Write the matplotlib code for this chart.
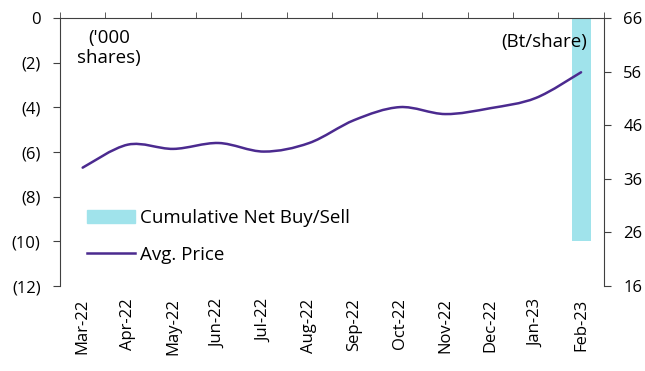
import numpy as np
from matplotlib import pyplot as plt
from matplotlib.path import Path
from matplotlib.patches import PathPatch
from matplotlib.lines import Line2D
from matplotlib.ticker import FixedLocator, FuncFormatter

plt.rcParams['font.family'] = ['Open Sans', 'DejaVu Sans']
plt.rcParams['font.size'] = 12

months = ['Mar-22', 'Apr-22', 'May-22', 'Jun-22', 'Jul-22', 'Aug-22',
          'Sep-22', 'Oct-22', 'Nov-22', 'Dec-22', 'Jan-23', 'Feb-23']
net_buy_sell = [0, 0, 0, 0, 0, 0, 0, 0, 0, 0, 0, -10.0]  # '000 shares
avg_price = [38.1, 42.4, 41.6, 42.7, 41.1, 42.7, 47.0, 49.4, 48.1, 49.2, 51.1, 55.9]  # Bt/share

bar_color = '#a0e3eb'
line_color = '#4b2a8f'
axis_color = '#404040'


def smooth_path(xs, ys, t=1/6):
    # cubic bezier through every point (Excel style smoothed line)
    verts = [(xs[0], ys[0])]
    codes = [Path.MOVETO]
    n = len(xs)
    for i in range(n - 1):
        x0, y0 = (xs[i - 1], ys[i - 1]) if i > 0 else (xs[i], ys[i])
        x3, y3 = (xs[i + 2], ys[i + 2]) if i + 2 < n else (xs[i + 1], ys[i + 1])
        c1 = (xs[i] + (xs[i + 1] - x0) * t, ys[i] + (ys[i + 1] - y0) * t)
        c2 = (xs[i + 1] - (x3 - xs[i]) * t, ys[i + 1] - (y3 - ys[i]) * t)
        verts += [c1, c2, (xs[i + 1], ys[i + 1])]
        codes += [Path.CURVE4] * 3
    return Path(verts, codes)


fig = plt.figure(figsize=(6.45, 3.71), dpi=100)
ax = fig.add_axes([0.093, 0.229, 0.843, 0.722])
x = np.arange(len(months))

ax.bar(x, net_buy_sell, width=0.42, color=bar_color, zorder=1)
ax.set_xlim(-0.5, len(months) - 0.5)
ax.set_ylim(-12, 0)
ax.set_yticks(np.arange(-12, 1, 2))
ax.yaxis.set_major_formatter(FuncFormatter(lambda v, p: f'({abs(v):.0f})' if v < 0 else f'{v:.0f}'))

# category labels at the bottom, boundary ticks on the zero line at the top
ax.set_xticks(x)
ax.set_xticklabels(months, rotation=90)
ax.tick_params(axis='x', which='major', length=0, pad=9)
ax.xaxis.set_minor_locator(FixedLocator(np.arange(-0.5, len(months), 1)))
ax.tick_params(axis='x', which='minor', top=True, bottom=False, direction='out', length=4, color=axis_color)
ax.tick_params(axis='y', direction='out', length=5, color=axis_color, pad=9)
ax.spines['bottom'].set_visible(False)
ax.spines['right'].set_visible(False)
for s in ['left', 'top']:
    ax.spines[s].set_color(axis_color)

ax2 = ax.twinx()
ax2.set_ylim(16, 66)
ax2.set_yticks(np.arange(16, 67, 10))
ax2.tick_params(axis='y', direction='out', length=5, color=axis_color, pad=9)
for s in ['left', 'top', 'bottom']:
    ax2.spines[s].set_visible(False)
ax2.spines['right'].set_color(axis_color)
ax2.add_patch(PathPatch(smooth_path(x, avg_price), facecolor='none',
                        edgecolor=line_color, lw=1.8, capstyle='round', zorder=3))

ax.text(0.09, 0.96, "('000\nshares)", transform=ax.transAxes, ha='center', va='top',
        fontsize=13.5, linespacing=1.15)
ax.text(0.97, 0.91, '(Bt/share)', transform=ax.transAxes, ha='right', va='center', fontsize=13.5)

handles = [plt.Rectangle((0, 0), 1, 1, color=bar_color),
           Line2D([], [], color=line_color, lw=1.8)]
ax.legend(handles, ['Cumulative Net Buy/Sell', 'Avg. Price'], loc='lower left',
          bbox_to_anchor=(0.018, 0.02), frameon=False, fontsize=13.5,
          handlelength=2.6, handletextpad=0.27, labelspacing=1.0)

fig.savefig('out.png', dpi=100)
